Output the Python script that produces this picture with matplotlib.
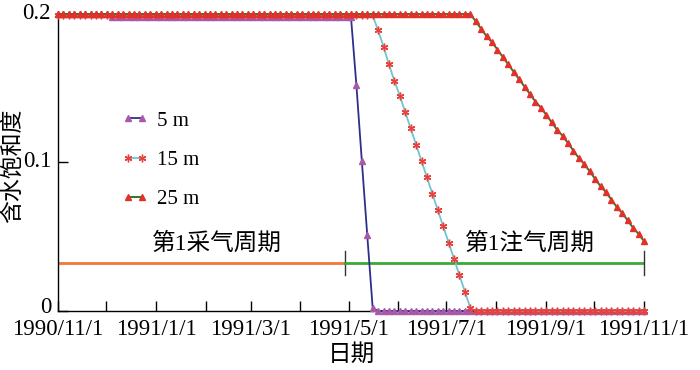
import matplotlib
matplotlib.use("Agg")
import matplotlib.pyplot as plt
import matplotlib.dates as mdates
import matplotlib.transforms as mtransforms
import pandas as pd

plt.rcParams["font.family"] = ["Liberation Serif", "Noto Sans CJK SC"]

# output dates of the simulation (109 evenly spaced steps over one year)
dates = pd.date_range("1990-11-01", "1991-11-01", periods=109)

# water saturation
sat_5m = [0.2] * 10 + [0.198] * 45 + [0.152, 0.101, 0.051, 0.002] + [0.0] * 50
sat_15m = ([0.199] * 59
           + [0.189, 0.178, 0.166, 0.155, 0.145, 0.134, 0.123, 0.112, 0.101,
              0.090, 0.079, 0.068, 0.057, 0.046, 0.035, 0.024, 0.013, 0.002]
           + [0.0] * 32)
sat_25m = ([0.2] * 77
           + [0.195, 0.190, 0.185, 0.181, 0.176, 0.171, 0.166, 0.161, 0.156, 0.151,
              0.146, 0.141, 0.137, 0.132, 0.127, 0.122, 0.118, 0.113, 0.108, 0.103,
              0.099, 0.094, 0.089, 0.084, 0.080, 0.075, 0.070, 0.066, 0.061, 0.056,
              0.052, 0.047])

# gas production / injection periods
period_labels = ["第1采气周期", "第1注气周期"]
period_start = ["1990-11-01", "1991-04-29"]
period_end = ["1991-04-29", "1991-11-01"]
period_text_x = ["1991-02-08", "1991-08-22"]
period_colors = ["#f07838", "#3aaa3a"]
period_level = 0.0325

tick_dates = ["1990-11-01", "1991-01-01", "1991-03-01", "1991-05-01",
              "1991-07-01", "1991-09-01", "1991-11-01"]
tick_labels = ["1990/11/1", "1991/1/1", "1991/3/1", "1991/5/1",
               "1991/7/1", "1991/9/1", "1991/11/1"]
ytick_values = [0, 0.1, 0.2]
ytick_labels = ["0", "0.1", "0.2"]

fig = plt.figure(figsize=(7, 3.7), dpi=100)
ax = fig.add_axes([0.0829, 0.1595, 0.837, 0.8027])

ax.plot(dates, sat_5m, color="#2e2f8a", lw=1.3, marker="^", ms=5,
        mfc="#a85aa8", mec="#a85aa8", label="5 m", clip_on=False, zorder=3)
ax.plot(dates, sat_15m, color="#6ec6cf", lw=1.3, marker=(6, 2, 0), ms=5.5,
        mfc="#e8413c", mec="#e8413c", mew=1.0, label="15 m", clip_on=False, zorder=4)
ax.plot(dates, sat_25m, color="#2b7a2b", lw=1.4, marker="^", ms=4.5,
        mfc="#e2302b", mec="#e2302b", label="25 m", clip_on=False, zorder=5)

for lab, s, e, tx, c in zip(period_labels, period_start, period_end, period_text_x, period_colors):
    ax.plot([pd.Timestamp(s), pd.Timestamp(e)], [period_level, period_level],
            color=c, lw=2.0, zorder=2)
    ax.plot([pd.Timestamp(e), pd.Timestamp(e)], [period_level - 0.008, period_level + 0.008],
            color="#333333", lw=1.0, clip_on=False, zorder=2)
    ax.text(pd.Timestamp(tx), period_level + 0.0128, lab, ha="center", va="center",
            fontsize=17)

ax.set_xlim(pd.Timestamp("1990-11-01"), pd.Timestamp("1991-11-01"))
ax.set_ylim(0, 0.2)
ax.set_xticks([pd.Timestamp(d) for d in tick_dates])
ax.set_xticklabels(tick_labels)
ax.xaxis.set_minor_locator(mdates.MonthLocator())
ax.set_yticks(ytick_values)
ax.set_yticklabels(ytick_labels)
ax.tick_params(axis="both", which="both", direction="in", length=7, width=1,
               labelsize=16.5)
ax.tick_params(axis="x", pad=6)
ax.tick_params(axis="y", pad=5)

# y tick labels sit a little above their ticks in the original
for lbl in ax.get_yticklabels():
    dy = 6 if lbl.get_text() == "0" else 3
    lbl.set_transform(lbl.get_transform()
                      + mtransforms.ScaledTranslation(0, dy / 100, fig.dpi_scale_trans))

for side in ("top", "right"):
    ax.spines[side].set_visible(False)
for side in ("left", "bottom"):
    ax.spines[side].set_linewidth(1.0)

ax.set_ylabel("含水饱和度", fontsize=16.5)
ax.yaxis.set_label_coords(-0.058, 0.49)
ax.set_xlabel("日期", fontsize=17)
ax.xaxis.set_label_coords(0.5, -0.11)

ax.legend(loc="upper left", bbox_to_anchor=(0.108, 0.673), frameon=False,
          fontsize=15, numpoints=2, handlelength=1.3, handletextpad=0.4,
          labelspacing=0.95, borderaxespad=0, borderpad=0)

fig.savefig("out.png", dpi=100)
